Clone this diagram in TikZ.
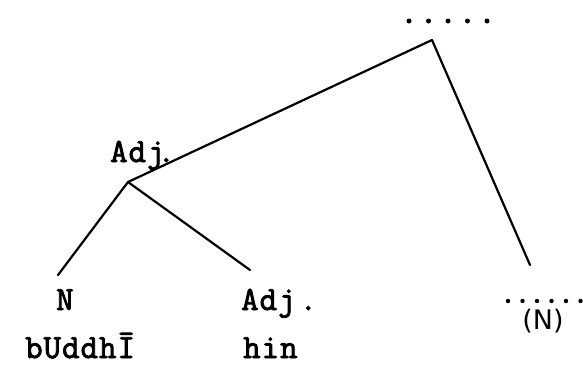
\documentclass[tikz,border=0pt]{standalone}
\usepackage{fontspec}
\newfontfamily\typew[FakeBold=2.5,LetterSpace=3]{Latin Modern Mono}
\newfontfamily\handfont{DejaVu Sans}
\begin{document}
\begin{tikzpicture}[x=1bp,y=-1bp,
  lbl/.style={inner sep=0pt,anchor=base west,font=\typew\fontsize{34}{37}\selectfont},
  branch/.style={line width=2.2bp,line cap=round}]
\useasboundingbox (0,0) rectangle (583,385);
% top dots
\foreach \i in {0,...,4}{\fill (409+19.5*\i,21) circle (2.5bp);}
% labels
\node[lbl] (adjtop) at (110,162) {Adj\hspace{-7bp}.};
\node[lbl] (n) at (56,310) {N};
\node[lbl] (adjlow) at (241,310) {Adj\hspace{4bp}.};
\node[lbl] (bud) at (25,358) {bUddhĪ};
\node[lbl] (hin) at (243,358) {hin};
\foreach \i in {0,...,5}{\fill (508+14.5*\i,301) circle (2.2bp);}
\node[inner sep=0pt,font=\handfont\fontsize{27}{30}\selectfont] (nn) at (543,321) {(N)};
% branch points
\coordinate (apex) at (432,40);
\coordinate (adjapex) at (128,182);
\coordinate (nend) at (58,275);
\coordinate (adjend) at (250,270);
\coordinate (rend) at (530,265);
\draw[branch] (apex) -- (adjapex);
\draw[branch] (apex) -- (rend);
\draw[branch] (adjapex) -- (nend);
\draw[branch] (adjapex) -- (adjend);
\end{tikzpicture}
\end{document}
